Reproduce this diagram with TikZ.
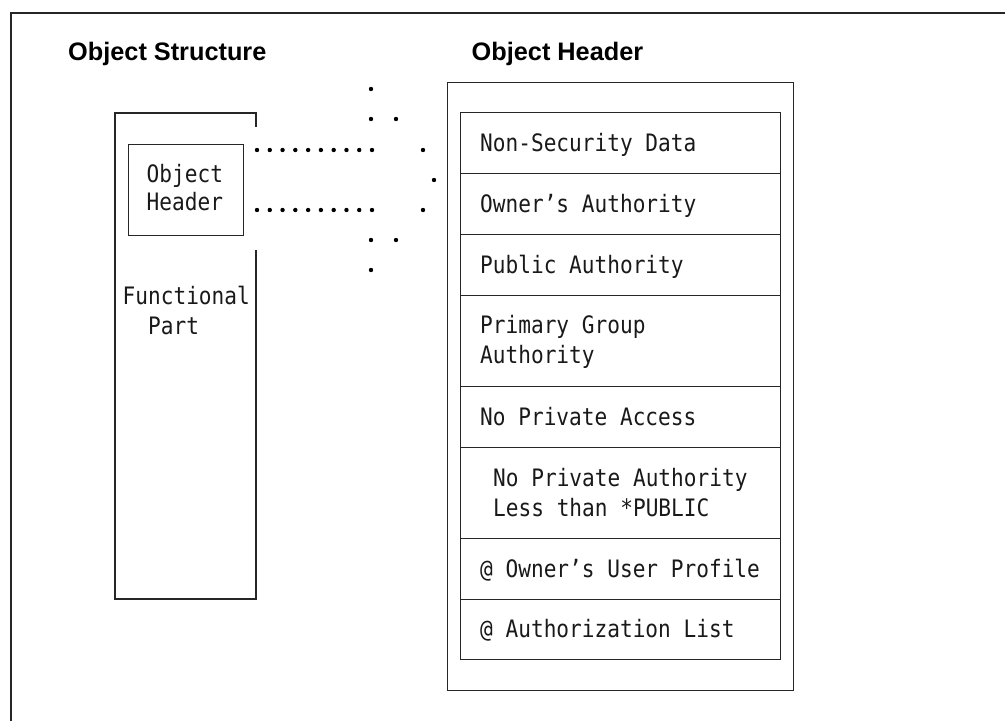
\documentclass[tikz,border=0pt]{standalone}
\usepackage{fontspec}
\setmainfont{Liberation Sans}
\newfontfamily\monof[FakeStretch=0.88]{DejaVu Sans Mono}
\tikzset{
  ln/.style={line width=1.3pt, draw=black!85},
  lbl/.style={font=\monof\fontsize{24}{28}\selectfont, anchor=base west, inner sep=0pt, text=black!90},
  ttl/.style={font=\bfseries\fontsize{25.3}{30}\selectfont, anchor=base west, inner sep=0pt},
  dotm/.style={circle, fill=black, inner sep=0pt, minimum size=4.4pt},
  rowbox/.style={ln, rectangle, minimum width=320pt, anchor=north west, inner sep=0pt},
}
\begin{document}
\begin{tikzpicture}[x=1pt,y=-1pt]
\useasboundingbox (0,0) rectangle (1005,721);
% outer frame (top and left only)
\draw[line width=1.5pt, draw=black!85] (11,721) -- (11,13) -- (1005,13);

% titles
\node[ttl] (t1) at (68,60) {Object Structure};
\node[ttl] (t2) at (471.5,60) {Object Header};

% left: object structure
\draw[ln] (256,127) -- (256,113) -- (115,113) -- (115,599) -- (256,599) -- (256,250);
\node[ln, rectangle, anchor=north west, minimum width=115pt, minimum height=91pt, inner sep=0pt] (ohbox) at (128,144) {};
\node[lbl] (oh1) at (146.5,182) {Object};
\node[lbl] (oh2) at (146.5,210) {Header};
\node[lbl] (fp1) at (122.5,304) {Functional};
\node[lbl] (fp2) at (148,334) {Part};

% right: object header
\node[ln, rectangle, anchor=north west, minimum width=346pt, minimum height=608pt, inner sep=0pt] (hdr) at (447,82) {};
\node[rowbox, minimum height=61pt] (r1) at (460,112) {};
\node[rowbox, minimum height=61pt] (r2) at (460,173) {};
\node[rowbox, minimum height=61pt] (r3) at (460,234) {};
\node[rowbox, minimum height=91pt] (r4) at (460,295) {};
\node[rowbox, minimum height=61pt] (r5) at (460,386) {};
\node[rowbox, minimum height=91pt] (r6) at (460,447) {};
\node[rowbox, minimum height=61pt] (r7) at (460,538) {};
\node[rowbox, minimum height=60pt] (r8) at (460,599) {};

\node[lbl] (l1) at (480,151.5) {Non-Security Data};
\node[lbl] (l2) at (480,212) {Owner’s Authority};
\node[lbl] (l3) at (480,273) {Public Authority};
\node[lbl] (l4a) at (480,333.5) {Primary Group};
\node[lbl] (l4b) at (480,363) {Authority};
\node[lbl] (l5) at (480,425) {No Private Access};
\node[lbl] (l6a) at (493,486.5) {No Private Authority};
\node[lbl] (l6b) at (493,516) {Less than *PUBLIC};
\node[lbl] (l7) at (480,577.5) {@ Owner’s User Profile};
\node[lbl] (l8) at (480,637.5) {@ Authorization List};

% dotted fan
\foreach \i in {0,...,9} {
  \node[dotm] at (257+\i*12.78,150) {};
  \node[dotm] at (257+\i*12.78,210) {};
}
\node[dotm] (d1) at (423,150) {};
\node[dotm] (d2) at (423,210) {};
\node[dotm] (d3) at (434,180) {};
\node[dotm] (d4) at (371,89) {};
\node[dotm] (d5) at (371,119) {};
\node[dotm] (d6) at (396,119) {};
\node[dotm] (d7) at (371,240) {};
\node[dotm] (d8) at (396,240) {};
\node[dotm] (d9) at (371,270) {};
\end{tikzpicture}
\end{document}
